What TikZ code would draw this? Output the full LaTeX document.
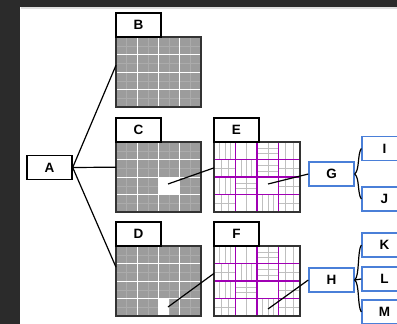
\documentclass[tikz,border=0pt]{standalone}
\usepackage{fontspec}
\setmainfont{Liberation Sans}

\definecolor{frame}{HTML}{2B2B2B}
\definecolor{cellgray}{HTML}{9C9C9C}
\definecolor{refine}{HTML}{A000B4}
\definecolor{boxblue}{HTML}{4A7FD8}

\begin{document}
\begin{tikzpicture}[
  x=1pt, y=-1pt,
  every node/.style={font=\fontsize{13.5}{16}\selectfont\bfseries, inner sep=0pt},
  tag/.style={rectangle, draw=black, line width=1.4pt, fill=white, minimum width=45pt, minimum height=24pt},
  leaf/.style={tag, draw=boxblue},
  link/.style={line width=1.2pt, black},
  coarse/.style={rectangle, fill=cellgray, outer sep=0pt, minimum width=85pt, minimum height=70pt},
  fine/.style={rectangle, fill=white, outer sep=0pt, minimum width=86pt, minimum height=70pt},
  edge/.style={line width=1.4pt, draw=black!80},
  faint/.style={draw=white!15!cellgray, line width=0.4pt},
  subline/.style={draw=black!25, line width=0.5pt},
  bigline/.style={draw=refine, line width=1.5pt}
]
\useasboundingbox (0,0) rectangle (397,324);

% Background
\fill[frame] (0,0) rectangle (397,324);
\fill[white] (20,7) rectangle (397,324);
\draw[gray!25, line width=1.5pt] (21,8) -- (397,8);

% Grids
\node[coarse] (Bg) at (158.5,72) {};
\node[coarse] (Cg) at (158.5,177) {};
\node[coarse] (Dg) at (158.5,281) {};
\node[fine] (Eg) at (257,177) {};
\node[fine] (Fg) at (257,281) {};

% Cell lines (21.25 x 17.5 and 21.5 x 17.5 cells)
\foreach \g in {Bg,Cg,Dg} {
  \foreach \t in {0.5,1.5,2.5,3.5} {
    \draw[faint] (\g.north west) ++(\t*21.25,0) -- ++(0,70);
    \draw[faint] (\g.north west) ++(0,\t*17.5) -- ++(85,0);
  }
  \foreach \t in {1,2,3} {
    \draw[white, line width=0.9pt] (\g.north west) ++(\t*21.25,0) -- ++(0,70);
    \draw[white, line width=0.9pt] (\g.north west) ++(0,\t*17.5) -- ++(85,0);
  }
}
\foreach \g in {Eg,Fg} {
  \foreach \c/\r/\k in {0/0/1, 1/0/2, 2/0/4, 3/0/5,
                        0/1/3, 1/1/1, 2/1/4, 3/1/3,
                        0/2/1, 1/2/4, 2/2/0, 3/2/3,
                        0/3/3, 1/3/2, 2/3/1, 3/3/3} {
    \ifcase\k\relax
    \or \foreach \t in {0.25,0.5,0.75} \draw[subline] (\g.north west) ++(\c*21.5+\t*21.5,\r*17.5) -- ++(0,17.5);
    \or \draw[subline] (\g.north west) ++(\c*21.5+10.75,\r*17.5) -- ++(0,17.5);
    \or \foreach \t in {0.33,0.67} \draw[subline] (\g.north west) ++(\c*21.5+\t*21.5,\r*17.5) -- ++(0,17.5);
        \draw[subline] (\g.north west) ++(\c*21.5,\r*17.5+8.75) -- ++(21.5,0);
    \or \foreach \t in {0.33,0.67} \draw[subline] (\g.north west) ++(\c*21.5,\r*17.5+\t*17.5) -- ++(21.5,0);
        \draw[subline] (\g.north west) ++(\c*21.5+10.75,\r*17.5) -- ++(0,17.5);
    \or \foreach \t in {0.33,0.67} \draw[subline] (\g.north west) ++(\c*21.5+\t*21.5,\r*17.5) -- ++(0,17.5);
    \fi
  }
  \foreach \t in {1,2,3} {
    \draw[bigline] (\g.north west) ++(\t*21.5,0) -- ++(0,70);
    \draw[bigline] (\g.north west) ++(0,\t*17.5) -- ++(86,0);
  }
}

% Removed cells
\fill[white] (Cg.north west) ++(42.5,35) rectangle ++(21.25,17.5);
\fill[white] (Dg.north west) ++(42.5,52.5) rectangle ++(10.6,17.5);

% Grid borders
\foreach \g in {Bg,Cg,Dg,Eg,Fg}
  \draw[edge] (\g.north west) rectangle (\g.south east);

% Nodes
\node[tag] (A) at (49.5,167.5) {A};
\node[tag] (B) at (138.5,25) {B};
\node[tag] (C) at (138.5,130) {C};
\node[tag] (D) at (138.5,234) {D};
\node[tag] (E) at (236.5,130) {E};
\node[tag] (F) at (236.5,234) {F};

\node[leaf] (G) at (331.5,174) {G};
\node[leaf] (H) at (331.5,280) {H};
\node[leaf] (I) at (384.5,148.5) {I};
\node[leaf] (J) at (384.5,199) {J};
\node[leaf] (K) at (384.5,245) {K};
\node[leaf] (L) at (384.5,279) {L};
\node[leaf] (M) at (384.5,312) {M};

\coordinate (Cin) at (168,184);
\coordinate (Din) at (168,307);
\coordinate (Ein) at (268,184);
\coordinate (Fin) at (268,309);

% Edges
\draw[link] (A.east) -- (Bg.171);
\draw[link] (A.east) -- (Cg.167);
\draw[link] (A.east) -- (Dg.162);

\draw[link] (Cin) -- (Eg.168);
\draw[link] (Din) -- (Fg.170);
\draw[link] (Ein) -- (G.west);
\draw[link] (Fin) -- (H.west);

\draw[link] (G.east) .. controls +(5,-4) and +(-4,6) .. (I.west);
\draw[link] (G.east) .. controls +(5,4) and +(-4,-6) .. (J.west);
\draw[link] (H.east) .. controls +(5,-4) and +(-4,6) .. (K.west);
\draw[link] (H.east) -- (L.west);
\draw[link] (H.east) .. controls +(5,4) and +(-4,-6) .. (M.west);

\end{tikzpicture}
\end{document}
